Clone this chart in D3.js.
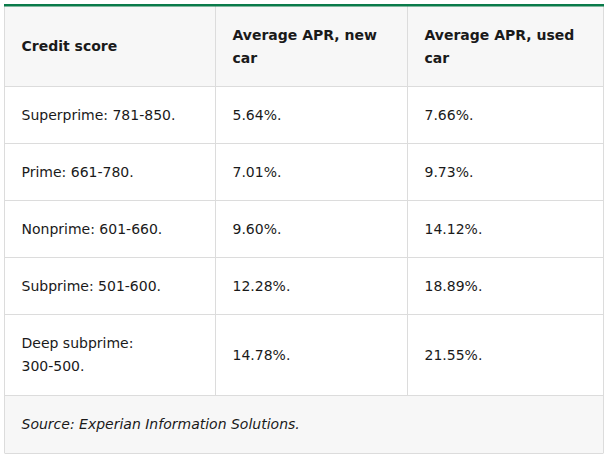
<html>
<head>
<script src="https://d3js.org/d3.v7.min.js"></script>
<style>body{margin:0;background:#fff}</style>
</head>
<body>
<svg id="chart" width="608" height="458"></svg>
<script>
const headers = ["Credit score", "Average APR, new car", "Average APR, used car"];
const categories = ["Superprime: 781-850.", "Prime: 661-780.", "Nonprime: 601-660.", "Subprime: 501-600.", "Deep subprime: 300-500."];
const newCar = ["5.64%.", "7.01%.", "9.60%.", "12.28%.", "14.78%."];
const usedCar = ["7.66%.", "9.73%.", "14.12%.", "18.89%.", "21.55%."];
const source = "Source: Experian Information Solutions.";

const svg = d3.select("#chart");
const font = "'DejaVu Sans', sans-serif";
const x = d3.scaleOrdinal().domain([0, 1, 2, 3]).range([4.5, 215.5, 407.5, 603.5]);
// row boundaries: header, 5 body rows, footer
const rowEdges = [6, 86, 143, 200, 257, 314, 395, 453];
const rowFill = ["#f7f7f7", "#fff", "#fff", "#fff", "#fff", "#fff", "#f7f7f7"];
const line = "#dcdcdc";

rowFill.forEach((f, i) => {
  svg.append("rect").attr("x", x(0)).attr("y", rowEdges[i]).attr("width", x(3) - x(0))
    .attr("height", rowEdges[i + 1] - rowEdges[i]).attr("fill", f);
});
rowEdges.forEach((y, i) => {
  if (i === 0) return;
  svg.append("line").attr("x1", x(0)).attr("x2", x(3)).attr("y1", y + 0.5).attr("y2", y + 0.5).attr("stroke", line);
});
[0, 1, 2, 3].forEach(c => {
  const y2 = (c === 0 || c === 3) ? rowEdges[7] : rowEdges[6];
  svg.append("line").attr("x1", x(c)).attr("x2", x(c)).attr("y1", rowEdges[0]).attr("y2", y2).attr("stroke", line);
});
svg.append("rect").attr("x", x(0) - 0.5).attr("y", 4).attr("width", x(3) - x(0) + 1).attr("height", 2.5).attr("fill", "#0a7b4a");

function cell(col, row, lines, bold, italic) {
  const top = rowEdges[row], bot = rowEdges[row + 1];
  const mid = (top + bot) / 2;
  const lh = 23;
  const t = svg.append("text").attr("x", x(col) + 17).attr("font-family", font)
    .attr("font-size", 14).attr("fill", "#1a1a1a")
    .attr("font-weight", bold ? 700 : 400).attr("font-style", italic ? "italic" : "normal");
  lines.forEach((l, i) => {
    t.append("tspan").attr("x", x(col) + 17)
      .attr("y", mid - (lines.length - 1) * lh / 2 + i * lh + 5).text(l);
  });
}
const wrap = s => {
  const m = { "Average APR, new car": ["Average APR, new", "car"], "Average APR, used car": ["Average APR, used", "car"], "Deep subprime: 300-500.": ["Deep subprime:", "300-500."] };
  return m[s] || [s];
};
headers.forEach((h, c) => cell(c, 0, wrap(h), true));
categories.forEach((cat, r) => {
  cell(0, r + 1, wrap(cat));
  cell(1, r + 1, [newCar[r]]);
  cell(2, r + 1, [usedCar[r]]);
});
cell(0, 6, [source], false, true);
</script>
</body>
</html>
